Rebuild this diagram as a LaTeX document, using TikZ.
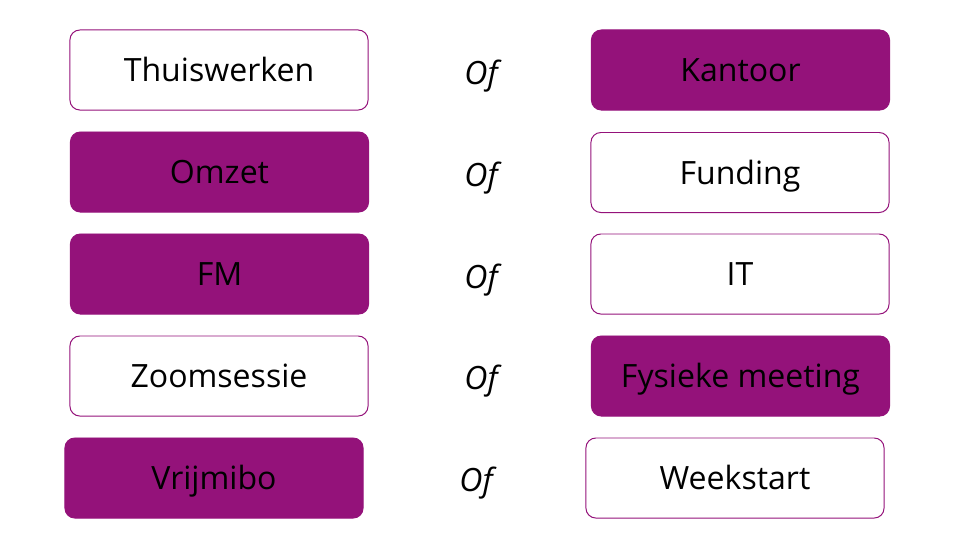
\documentclass[tikz,border=0pt]{standalone}
\usepackage{fontspec}
\setmainfont{Open Sans}
\usepackage{tikz}
\usetikzlibrary{positioning}
\definecolor{cpurple}{HTML}{94127A}

\begin{document}
\begin{tikzpicture}[
  x=0.025cm, y=-0.025cm,
  box/.style={draw=cpurple, line width=0.7pt, rounded corners=7pt, minimum width=7.45cm, minimum height=2cm, inner sep=0pt, align=center, font=\fontsize{22.8}{27}\selectfont, text=black, text height=17pt, text depth=0pt},
  full/.style={box, fill=cpurple},
  empty/.style={box, fill=white},
  oftxt/.style={font=\fontsize{22.8}{27}\selectfont\itshape, inner sep=0pt}
]
  \useasboundingbox (0,0) rectangle (960,540);

  % Row 1
  \node[empty] (thuis) at (219, 70) {Thuiswerken};
  \node[oftxt] (of1) at (481, 76) {Of};
  \node[full] (kantoor) at (740.5, 70) {Kantoor};

  % Row 2
  \node[full] (omzet) at (219.5, 172) {Omzet};
  \node[oftxt] (of2) at (481, 178) {Of};
  \node[empty] (funding) at (740, 172.5) {Funding};

  % Row 3
  \node[full] (fm) at (219.5, 274) {FM};
  \node[oftxt] (of3) at (481, 280) {Of};
  \node[empty] (it) at (740, 274) {IT};

  % Row 4
  \node[empty] (zoom) at (219, 376) {Zoomsessie};
  \node[oftxt] (of4) at (481, 381) {Of};
  \node[full] (fysiek) at (740.5, 376) {Fysieke meeting};

  % Row 5
  \node[full] (vrijmibo) at (214, 478) {Vrijmibo};
  \node[oftxt] (of5) at (476, 483) {Of};
  \node[empty] (weekstart) at (735, 478) {Weekstart};

\end{tikzpicture}
\end{document}
